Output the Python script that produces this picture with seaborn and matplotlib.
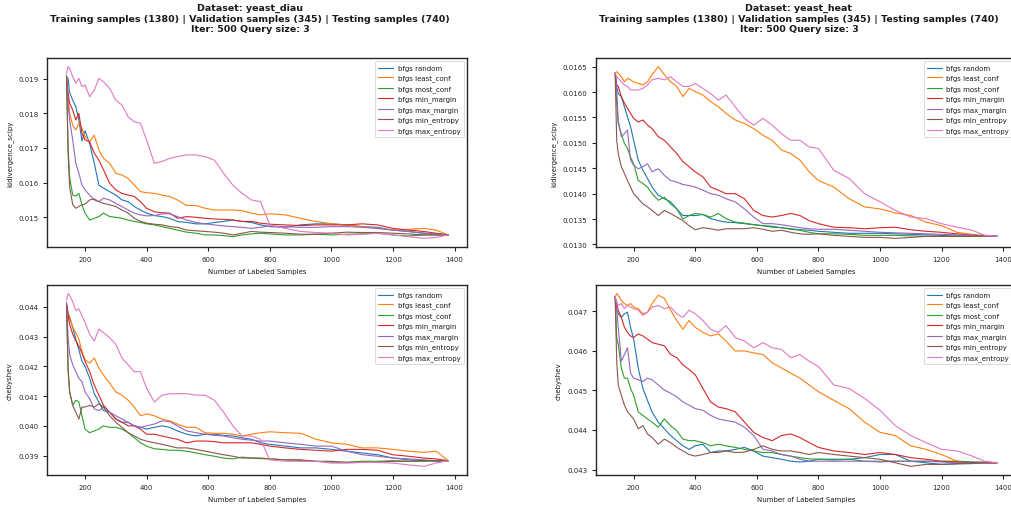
import matplotlib
matplotlib.use("Agg")
import matplotlib.pyplot as plt
import seaborn as sns

# ---------------- data ----------------
x_samples = [140, 145, 150, 160, 170, 180, 190, 200, 215, 230, 245, 260, 280, 300, 320,
             340, 360, 380, 400, 425, 450, 475, 500, 530, 560, 590, 620, 650, 680, 710,
             740, 770, 800, 850, 900, 950, 1000, 1050, 1100, 1150, 1200, 1250, 1300, 1340, 1380]

strategies = ["bfgs random", "bfgs least_conf", "bfgs most_conf", "bfgs min_margin",
              "bfgs max_margin", "bfgs min_entropy", "bfgs max_entropy"]

# yeast_diau - kldivergence_scipy
diau_kl_random = [0.01906, 0.0190, 0.0186, 0.01838, 0.01819, 0.01781, 0.0172, 0.0175, 0.01713, 0.01656, 0.01593, 0.01584, 0.01574, 0.01564, 0.0155,
                  0.01545, 0.01531, 0.01521, 0.01512, 0.01505, 0.01502, 0.01497, 0.01488, 0.01485, 0.01481, 0.01481, 0.01485, 0.01488, 0.01492, 0.01488,
                  0.01485, 0.01478, 0.01473, 0.01471, 0.01478, 0.01481, 0.01481, 0.01478, 0.01473, 0.01471, 0.01463, 0.01459, 0.01454, 0.01451, 0.01449]
diau_kl_least_conf = [0.0190, 0.0185, 0.0180, 0.01766, 0.01752, 0.01771, 0.01757, 0.01733, 0.01718, 0.01737, 0.01694, 0.0167, 0.01656, 0.01627, 0.01622,
                      0.01612, 0.01593, 0.01574, 0.01571, 0.01569, 0.01564, 0.0156, 0.0155, 0.01534, 0.01534, 0.01526, 0.01521, 0.01521, 0.01521, 0.01519,
                      0.01512, 0.01507, 0.0151, 0.01507, 0.01497, 0.01488, 0.01481, 0.01478, 0.01473, 0.01468, 0.01463, 0.01465, 0.01468, 0.01463, 0.01449]
diau_kl_most_conf = [0.0190, 0.01704, 0.01617, 0.01564, 0.01561, 0.01569, 0.01536, 0.01512, 0.01492, 0.01497, 0.01502, 0.01512, 0.01502, 0.0150, 0.01497,
                     0.01492, 0.01488, 0.01485, 0.01481, 0.01478, 0.01473, 0.01468, 0.01463, 0.01457, 0.01454, 0.01449, 0.01449, 0.01447, 0.01444, 0.01449,
                     0.01452, 0.01454, 0.01452, 0.01449, 0.01449, 0.01451, 0.01449, 0.01451, 0.01452, 0.01454, 0.01449, 0.01446, 0.01449, 0.01449, 0.01449]
diau_kl_min_margin = [0.0190, 0.01858, 0.01829, 0.0181, 0.01781, 0.0180, 0.01742, 0.01723, 0.01718, 0.01685, 0.01665, 0.01637, 0.01598, 0.01579, 0.01569,
                      0.01564, 0.0156, 0.01545, 0.01526, 0.01516, 0.01513, 0.01512, 0.01497, 0.01502, 0.0150, 0.01497, 0.01495, 0.01494, 0.01492, 0.01488,
                      0.01488, 0.01483, 0.0148, 0.01478, 0.01476, 0.01478, 0.01478, 0.01478, 0.01481, 0.01478, 0.01468, 0.01463, 0.01459, 0.01454, 0.01449]
diau_kl_max_margin = [0.0190, 0.01829, 0.01781, 0.01723, 0.01656, 0.01627, 0.01593, 0.01579, 0.01564, 0.0155, 0.01545, 0.01555, 0.0155, 0.0154, 0.01531,
                      0.01521, 0.01512, 0.01507, 0.01504, 0.01505, 0.0151, 0.0151, 0.01502, 0.01492, 0.01485, 0.01481, 0.01478, 0.01475, 0.01473, 0.01471,
                      0.01468, 0.01471, 0.01475, 0.01473, 0.01471, 0.01471, 0.01473, 0.01473, 0.01471, 0.01468, 0.01463, 0.01459, 0.01454, 0.01452, 0.01449]
diau_kl_min_entropy = [0.0191, 0.01685, 0.01588, 0.01536, 0.01526, 0.01531, 0.01536, 0.01538, 0.0155, 0.01553, 0.01545, 0.0154, 0.01536, 0.01531, 0.01521,
                       0.01512, 0.01497, 0.01488, 0.01483, 0.0148, 0.01478, 0.01473, 0.01471, 0.01463, 0.01461, 0.01459, 0.01457, 0.01454, 0.01449, 0.01454,
                       0.01459, 0.01457, 0.01456, 0.01454, 0.01451, 0.01451, 0.01454, 0.01457, 0.01456, 0.01456, 0.01454, 0.01452, 0.01449, 0.01449, 0.01449]
diau_kl_max_entropy = [0.01915, 0.01935, 0.0193, 0.01906, 0.01887, 0.01901, 0.01877, 0.01882, 0.01848, 0.01867, 0.01901, 0.01891, 0.01872, 0.01838, 0.01824,
                       0.0179, 0.01776, 0.01771, 0.01723, 0.01656, 0.01661, 0.0167, 0.01675, 0.0168, 0.0168, 0.01675, 0.01665, 0.01627, 0.01593, 0.01569,
                       0.0155, 0.01545, 0.01478, 0.01468, 0.01459, 0.01456, 0.01454, 0.01449, 0.01451, 0.01454, 0.01449, 0.01444, 0.01439, 0.01442, 0.01449]

# yeast_heat - kldivergence_scipy
heat_kl_random = [0.01637, 0.01611, 0.01597, 0.01591, 0.01571, 0.01551, 0.01532, 0.01505, 0.01466, 0.01446, 0.0143, 0.01413, 0.01397, 0.0139, 0.01384,
                  0.0137, 0.01357, 0.01357, 0.01357, 0.01359, 0.01351, 0.01347, 0.01344, 0.01343, 0.01341, 0.01339, 0.01337, 0.01334, 0.01333, 0.01331,
                  0.01329, 0.01328, 0.01326, 0.01324, 0.01322, 0.01322, 0.01322, 0.01321, 0.0132, 0.01319, 0.01318, 0.01316, 0.01316, 0.01317, 0.01317]
heat_kl_least_conf = [0.01637, 0.0164, 0.01637, 0.0163, 0.0162, 0.01627, 0.01624, 0.0162, 0.01617, 0.01614, 0.0162, 0.01634, 0.0165, 0.01634, 0.0162,
                      0.01611, 0.01591, 0.01607, 0.01601, 0.01594, 0.01581, 0.01571, 0.01558, 0.01545, 0.01538, 0.01528, 0.01515, 0.01505, 0.01486, 0.01479,
                      0.01466, 0.01443, 0.01426, 0.01413, 0.0139, 0.01374, 0.0137, 0.01362, 0.01357, 0.01344, 0.01337, 0.01324, 0.0132, 0.01318, 0.01317]
heat_kl_most_conf = [0.01637, 0.01578, 0.01538, 0.01518, 0.01499, 0.01489, 0.01472, 0.01459, 0.01426, 0.0142, 0.01413, 0.0140, 0.01387, 0.01393, 0.0138,
                     0.0137, 0.0135, 0.01357, 0.01361, 0.01359, 0.01354, 0.01361, 0.01351, 0.01344, 0.01342, 0.01339, 0.01337, 0.01336, 0.01333, 0.0133,
                     0.01328, 0.01324, 0.01321, 0.01321, 0.0132, 0.01318, 0.01318, 0.01318, 0.01317, 0.01316, 0.01316, 0.01317, 0.01317, 0.01317, 0.01317]
heat_kl_min_margin = [0.01637, 0.01614, 0.01611, 0.01591, 0.01578, 0.01568, 0.01558, 0.01548, 0.01541, 0.01545, 0.01535, 0.01528, 0.01512, 0.01505, 0.01492,
                      0.01479, 0.01463, 0.01453, 0.01443, 0.01433, 0.01413, 0.01407, 0.0140, 0.0140, 0.0139, 0.01367, 0.01357, 0.01354, 0.01357, 0.01361,
                      0.01357, 0.01347, 0.01341, 0.01334, 0.01333, 0.01331, 0.01333, 0.01334, 0.01329, 0.01326, 0.01324, 0.01321, 0.01318, 0.01317, 0.01317]
heat_kl_max_margin = [0.01637, 0.01604, 0.01545, 0.01512, 0.01518, 0.01525, 0.01466, 0.01456, 0.01449, 0.01453, 0.01459, 0.01443, 0.01449, 0.01436, 0.01426,
                      0.01423, 0.01418, 0.01416, 0.01413, 0.01407, 0.0140, 0.01397, 0.0139, 0.01384, 0.0137, 0.01354, 0.01341, 0.01341, 0.01339, 0.01336,
                      0.01333, 0.01331, 0.0133, 0.0133, 0.01328, 0.01326, 0.01324, 0.01323, 0.01322, 0.01321, 0.0132, 0.01319, 0.01318, 0.01317, 0.01317]
heat_kl_min_entropy = [0.01637, 0.01505, 0.01479, 0.01453, 0.0144, 0.01426, 0.01413, 0.0140, 0.0139, 0.0138, 0.01374, 0.01367, 0.01357, 0.01367, 0.01361,
                       0.01354, 0.01347, 0.01337, 0.01329, 0.01333, 0.01331, 0.01328, 0.01331, 0.01331, 0.01331, 0.01333, 0.0133, 0.01326, 0.01328, 0.01324,
                       0.01321, 0.0132, 0.01321, 0.01318, 0.01316, 0.01314, 0.01314, 0.01312, 0.01314, 0.01316, 0.01316, 0.01316, 0.01316, 0.01317, 0.01317]
heat_kl_max_entropy = [0.01637, 0.0163, 0.01627, 0.0162, 0.01614, 0.01611, 0.01604, 0.01604, 0.01604, 0.01607, 0.01614, 0.01624, 0.01627, 0.01624, 0.0163,
                       0.0162, 0.01611, 0.01611, 0.01617, 0.01607, 0.01597, 0.01584, 0.01594, 0.01571, 0.01548, 0.01535, 0.01548, 0.01535, 0.01518, 0.01505,
                       0.01505, 0.01492, 0.01489, 0.01446, 0.0143, 0.0140, 0.01384, 0.01367, 0.01354, 0.01351, 0.01341, 0.01334, 0.01328, 0.01318, 0.01317]

# yeast_diau - chebyshev
diau_ch_random = [0.04405, 0.04376, 0.04365, 0.04331, 0.04291, 0.04256, 0.04217, 0.0420, 0.0416, 0.04108, 0.0408, 0.04051, 0.04046, 0.04023, 0.04012,
                  0.04012, 0.0400, 0.03995, 0.03989, 0.03995, 0.0400, 0.03995, 0.03983, 0.03972, 0.03966, 0.03972, 0.03972, 0.03968, 0.03966, 0.0396,
                  0.03955, 0.03943, 0.03938, 0.03932, 0.03926, 0.03926, 0.03921, 0.03915, 0.03909, 0.03903, 0.03892, 0.03886, 0.03884, 0.03881, 0.03883]
diau_ch_least_conf = [0.04405, 0.04353, 0.04365, 0.04331, 0.04313, 0.04291, 0.04251, 0.04222, 0.04211, 0.04228, 0.04194, 0.04171, 0.04143, 0.04114, 0.04103,
                      0.04086, 0.04063, 0.04034, 0.0404, 0.04034, 0.04023, 0.04017, 0.04006, 0.03995, 0.03995, 0.03977, 0.03975, 0.03975, 0.03972, 0.03966,
                      0.03972, 0.03977, 0.0398, 0.03977, 0.03975, 0.03955, 0.03943, 0.03938, 0.03926, 0.03926, 0.03921, 0.03915, 0.03911, 0.03915, 0.03883]
diau_ch_most_conf = [0.04405, 0.04182, 0.04114, 0.04069, 0.04086, 0.0408, 0.04034, 0.03989, 0.03977, 0.03983, 0.03989, 0.0400, 0.03995, 0.03995, 0.03989,
                     0.03977, 0.0396, 0.03943, 0.03932, 0.03923, 0.03921, 0.03918, 0.03918, 0.03915, 0.03909, 0.03903, 0.03898, 0.03892, 0.03889, 0.03895,
                     0.03892, 0.0389, 0.03889, 0.03886, 0.03884, 0.03881, 0.03878, 0.03878, 0.03881, 0.03881, 0.03883, 0.03881, 0.03881, 0.03883, 0.03883]
diau_ch_min_margin = [0.0441, 0.04376, 0.04342, 0.04308, 0.04285, 0.04268, 0.04245, 0.04217, 0.04182, 0.04137, 0.04103, 0.04069, 0.04046, 0.04023, 0.04012,
                      0.0400, 0.0400, 0.03989, 0.03972, 0.03972, 0.03966, 0.0396, 0.03955, 0.03943, 0.03949, 0.03949, 0.03947, 0.03943, 0.03943, 0.03943,
                      0.03943, 0.03938, 0.03932, 0.03926, 0.03921, 0.03918, 0.03915, 0.03921, 0.03921, 0.03918, 0.03903, 0.03898, 0.03892, 0.03889, 0.03883]
diau_ch_max_margin = [0.04416, 0.04296, 0.0424, 0.04205, 0.04182, 0.0416, 0.04148, 0.04114, 0.04091, 0.04057, 0.04051, 0.04063, 0.04046, 0.04034, 0.04023,
                      0.04012, 0.0400, 0.03995, 0.0400, 0.04006, 0.04017, 0.04014, 0.0400, 0.03983, 0.03977, 0.03972, 0.03968, 0.03966, 0.0396, 0.03955,
                      0.03952, 0.03949, 0.03949, 0.03943, 0.03938, 0.03932, 0.03932, 0.03915, 0.03903, 0.03898, 0.03892, 0.03889, 0.03886, 0.03883, 0.03883]
diau_ch_min_entropy = [0.04405, 0.04194, 0.04114, 0.04069, 0.04046, 0.04023, 0.04063, 0.04063, 0.04069, 0.04063, 0.04074, 0.04063, 0.04034, 0.04012, 0.03995,
                       0.03977, 0.03966, 0.03955, 0.03949, 0.03943, 0.03938, 0.03932, 0.03926, 0.03926, 0.03921, 0.03915, 0.03909, 0.03903, 0.03898, 0.03892,
                       0.03892, 0.03892, 0.03889, 0.03886, 0.03886, 0.03881, 0.03881, 0.03877, 0.03878, 0.03878, 0.03881, 0.03881, 0.03883, 0.03883, 0.03883]
diau_ch_max_entropy = [0.04422, 0.04444, 0.04439, 0.04416, 0.04387, 0.04393, 0.0437, 0.04348, 0.04308, 0.04285, 0.04325, 0.04313, 0.04296, 0.04274, 0.04228,
                       0.04205, 0.04182, 0.04182, 0.04126, 0.0408, 0.04103, 0.04108, 0.04108, 0.04108, 0.04103, 0.04103, 0.04086, 0.04046, 0.0400, 0.03966,
                       0.03966, 0.03955, 0.03886, 0.03881, 0.03881, 0.03881, 0.03875, 0.03875, 0.03877, 0.03877, 0.03875, 0.03869, 0.03864, 0.03875, 0.03883]

# yeast_heat - chebyshev
heat_ch_random = [0.04737, 0.04703, 0.04694, 0.04685, 0.04694, 0.04698, 0.0466, 0.0463, 0.04557, 0.04505, 0.04475, 0.04445, 0.0442, 0.04403, 0.04386,
                  0.04373, 0.0436, 0.04351, 0.0436, 0.04364, 0.04343, 0.04347, 0.04347, 0.04351, 0.04356, 0.04347, 0.04334, 0.0433, 0.04326, 0.04321,
                  0.04319, 0.04321, 0.04326, 0.04326, 0.04326, 0.0433, 0.04338, 0.04338, 0.04321, 0.04317, 0.04313, 0.04314, 0.04315, 0.04317, 0.04317]
heat_ch_least_conf = [0.04737, 0.04745, 0.04741, 0.04728, 0.0472, 0.04715, 0.0472, 0.04711, 0.04707, 0.04694, 0.04698, 0.0472, 0.04741, 0.04733, 0.04703,
                      0.04677, 0.04655, 0.04677, 0.0466, 0.04647, 0.04638, 0.04643, 0.04625, 0.0460, 0.0460, 0.04595, 0.04591, 0.0457, 0.04557, 0.04544,
                      0.04531, 0.04514, 0.04497, 0.04475, 0.04454, 0.0442, 0.04394, 0.04386, 0.0436, 0.04351, 0.04338, 0.04321, 0.04319, 0.04317, 0.04317]
heat_ch_most_conf = [0.04737, 0.04634, 0.04617, 0.04557, 0.04531, 0.04531, 0.04505, 0.04488, 0.04446, 0.04437, 0.04428, 0.0442, 0.04407, 0.04428, 0.04411,
                     0.04398, 0.04377, 0.04373, 0.04373, 0.04368, 0.0436, 0.04364, 0.0436, 0.04356, 0.04351, 0.04347, 0.04343, 0.04343, 0.04338, 0.04334,
                     0.0433, 0.04327, 0.04326, 0.04324, 0.04326, 0.04321, 0.04321, 0.04321, 0.04321, 0.04321, 0.04321, 0.04321, 0.04319, 0.04319, 0.04317]
heat_ch_min_margin = [0.04737, 0.0472, 0.04703, 0.04685, 0.0466, 0.04647, 0.04638, 0.04634, 0.04643, 0.04638, 0.0463, 0.04621, 0.04617, 0.04613, 0.04591,
                      0.04583, 0.04565, 0.04553, 0.0454, 0.04505, 0.04471, 0.04458, 0.04454, 0.04446, 0.0442, 0.04394, 0.04381, 0.04373, 0.04386, 0.0439,
                      0.04381, 0.04368, 0.04356, 0.04347, 0.04343, 0.04338, 0.04343, 0.04338, 0.0433, 0.04326, 0.04321, 0.04319, 0.04317, 0.04317, 0.04317]
heat_ch_max_margin = [0.04737, 0.04703, 0.0466, 0.04574, 0.04591, 0.04608, 0.04544, 0.04531, 0.04527, 0.04523, 0.04531, 0.04527, 0.04514, 0.04501, 0.04493,
                      0.04484, 0.04471, 0.04463, 0.04454, 0.0445, 0.04437, 0.04428, 0.04424, 0.0442, 0.04407, 0.04386, 0.04351, 0.04347, 0.04338, 0.04334,
                      0.04326, 0.04321, 0.04321, 0.04321, 0.04321, 0.04321, 0.04319, 0.04321, 0.04321, 0.04321, 0.04319, 0.04317, 0.04317, 0.04317, 0.04317]
heat_ch_min_entropy = [0.04737, 0.04574, 0.04514, 0.04488, 0.04463, 0.04446, 0.04437, 0.04428, 0.04403, 0.04411, 0.0439, 0.04381, 0.04364, 0.04377, 0.04368,
                       0.04356, 0.04347, 0.04338, 0.04334, 0.04338, 0.04343, 0.04343, 0.04347, 0.04343, 0.04344, 0.04351, 0.0436, 0.04351, 0.04347, 0.04347,
                       0.04343, 0.04338, 0.04343, 0.04338, 0.04334, 0.0433, 0.04326, 0.04317, 0.04308, 0.04313, 0.04313, 0.04315, 0.04317, 0.04317, 0.04317]
heat_ch_max_entropy = [0.04737, 0.04724, 0.04715, 0.0472, 0.04707, 0.04715, 0.04711, 0.04707, 0.04703, 0.0469, 0.04698, 0.04711, 0.04715, 0.04707, 0.04711,
                       0.04694, 0.04685, 0.04703, 0.04694, 0.04677, 0.04655, 0.04647, 0.04664, 0.04634, 0.04625, 0.04608, 0.04621, 0.04608, 0.04604, 0.04583,
                       0.04591, 0.04574, 0.04561, 0.04514, 0.04505, 0.0448, 0.0445, 0.04411, 0.04386, 0.04368, 0.04351, 0.04347, 0.04334, 0.04321, 0.04317]

dataset_titles = [
    "Dataset: yeast_diau\nTraining samples (1380) | Validation samples (345) | Testing samples (740)\nIter: 500 Query size: 3",
    "Dataset: yeast_heat\nTraining samples (1380) | Validation samples (345) | Testing samples (740)\nIter: 500 Query size: 3",
]
x_label = "Number of Labeled Samples"
y_labels = ["kldivergence_scipy", "chebyshev"]

panels = [
    [diau_kl_random, diau_kl_least_conf, diau_kl_most_conf, diau_kl_min_margin,
     diau_kl_max_margin, diau_kl_min_entropy, diau_kl_max_entropy],
    [heat_kl_random, heat_kl_least_conf, heat_kl_most_conf, heat_kl_min_margin,
     heat_kl_max_margin, heat_kl_min_entropy, heat_kl_max_entropy],
    [diau_ch_random, diau_ch_least_conf, diau_ch_most_conf, diau_ch_min_margin,
     diau_ch_max_margin, diau_ch_min_entropy, diau_ch_max_entropy],
    [heat_ch_random, heat_ch_least_conf, heat_ch_most_conf, heat_ch_min_margin,
     heat_ch_max_margin, heat_ch_min_entropy, heat_ch_max_entropy],
]

# ---------------- style ----------------
sns.set_theme(style="ticks")
plt.rcParams.update({
    "font.family": ["DejaVu Sans"],
    "xtick.labelsize": 5,
    "ytick.labelsize": 5,
    "axes.labelsize": 5,
    "legend.fontsize": 5,
    "xtick.major.size": 3,
    "ytick.major.size": 3,
    "xtick.major.width": 0.8,
    "ytick.major.width": 0.8,
    "axes.linewidth": 1.0,
    "xtick.major.pad": 3.5,
    "ytick.major.pad": 3.3,
    "axes.edgecolor": "0.15",
    "text.color": "0.1",
    "axes.labelcolor": "0.1",
    "xtick.color": "0.15",
    "ytick.color": "0.15",
})

palette = sns.color_palette("tab10", 7)

fig = plt.figure(figsize=(10.12, 5.06), dpi=100)
positions = [
    [0.0469, 0.5099, 0.415, 0.3735],
    [0.589, 0.5099, 0.415, 0.3735],
    [0.0469, 0.0593, 0.415, 0.3755],
    [0.589, 0.0593, 0.415, 0.3755],
]

for i, (pos, series) in enumerate(zip(positions, panels)):
    ax = fig.add_axes(pos)
    for name, vals, col in zip(strategies, series, palette):
        sns.lineplot(x=x_samples, y=vals, ax=ax, color=col, label=name, linewidth=0.8)
    ax.set_xlabel(x_label, labelpad=4)
    ax.set_ylabel(y_labels[i // 2], labelpad=4)
    ax.set_xticks([200, 400, 600, 800, 1000, 1200, 1400])
    leg = ax.legend(loc="upper right", frameon=True, handlelength=2.1,
                    handletextpad=0.68, borderpad=0.5, labelspacing=0.54,
                    borderaxespad=0.5)
    leg.get_frame().set_linewidth(0.6)

fig.text(0.247, 0.992, dataset_titles[0], ha="center", va="top",
         fontsize=6.8, fontweight="bold", linespacing=1.2)
fig.text(0.7895, 0.992, dataset_titles[1], ha="center", va="top",
         fontsize=6.8, fontweight="bold", linespacing=1.2)

fig.savefig("out.png", dpi=100)
